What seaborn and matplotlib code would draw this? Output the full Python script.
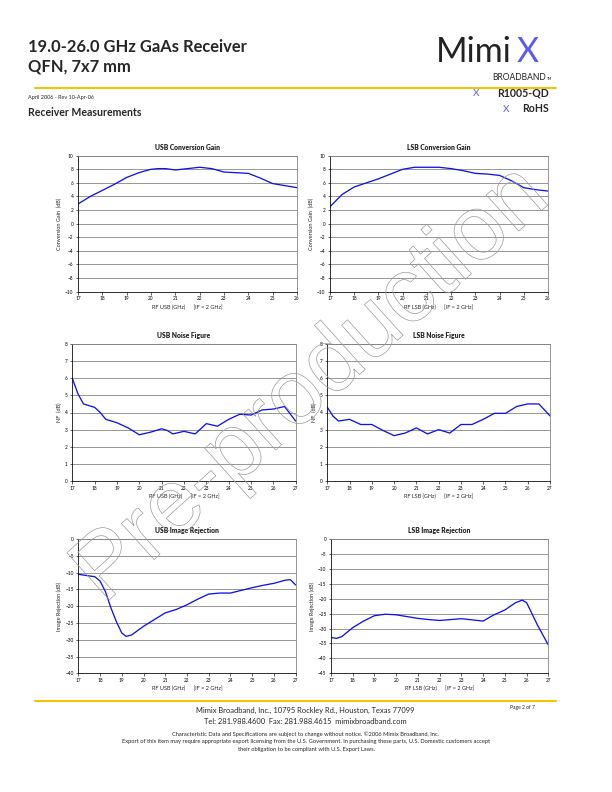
import matplotlib
matplotlib.use("Agg")
import matplotlib.pyplot as plt
import matplotlib.patheffects as pe
import seaborn as sns
import pandas as pd

# ---------------- data ----------------
usb_cg_x = [17, 17.5, 18, 18.5, 19, 19.5, 20, 20.3, 20.6, 21, 21.5, 22, 22.5, 23, 23.5, 24, 24.5, 25, 25.5, 26]
usb_cg_y = [2.9, 4.0, 4.9, 5.8, 6.8, 7.5, 8.0, 8.1, 8.1, 7.9, 8.1, 8.3, 8.1, 7.6, 7.5, 7.4, 6.7, 5.9, 5.6, 5.3]

lsb_cg_x = [17, 17.5, 18, 18.5, 19, 19.5, 20, 20.5, 21, 21.5, 22, 22.5, 23, 23.5, 24, 24.5, 25, 25.5, 26]
lsb_cg_y = [2.5, 4.3, 5.4, 6.0, 6.6, 7.3, 8.0, 8.3, 8.3, 8.3, 8.1, 7.8, 7.4, 7.3, 7.1, 6.3, 5.3, 5.0, 4.8]

usb_nf_x = [17, 17.25, 17.5, 17.75, 18, 18.25, 18.5, 19, 19.5, 20, 20.5, 21, 21.25, 21.5, 22, 22.5, 23, 23.5, 24, 24.5, 25, 25.5, 26, 26.5, 27]
usb_nf_y = [6.0, 5.1, 4.5, 4.4, 4.3, 4.0, 3.6, 3.4, 3.1, 2.7, 2.85, 3.05, 2.95, 2.75, 2.9, 2.75, 3.35, 3.2, 3.6, 3.9, 3.85, 4.15, 4.2, 4.35, 3.5]

lsb_nf_x = [17, 17.25, 17.5, 18, 18.5, 19, 19.5, 20, 20.5, 21, 21.5, 22, 22.5, 23, 23.5, 24, 24.5, 25, 25.5, 26, 26.5, 27]
lsb_nf_y = [4.3, 3.8, 3.5, 3.6, 3.3, 3.3, 2.95, 2.65, 2.8, 3.1, 2.75, 3.0, 2.8, 3.3, 3.3, 3.6, 3.95, 3.95, 4.35, 4.5, 4.5, 3.8]

usb_ir_x = [17, 17.5, 17.75, 18, 18.25, 18.5, 18.75, 19, 19.2, 19.45, 20, 20.5, 21, 21.5, 22, 22.5, 23, 23.5, 24, 24.5, 25, 25.5, 26, 26.5, 26.75, 27]
usb_ir_y = [-10.5, -11.0, -11.2, -12.5, -15.7, -20.5, -24.6, -28.0, -29.0, -28.6, -26.0, -24.0, -22.0, -21.0, -19.6, -17.9, -16.4, -16.1, -16.1, -15.3, -14.5, -13.8, -13.2, -12.3, -12.1, -13.7]

lsb_ir_x = [17, 17.25, 17.5, 18, 18.5, 19, 19.5, 20, 20.5, 21, 21.5, 22, 22.5, 23, 23.5, 24, 24.5, 25, 25.5, 25.8, 26, 26.5, 27]
lsb_ir_y = [-33.0, -33.3, -32.7, -29.7, -27.5, -25.7, -25.2, -25.4, -26.0, -26.6, -27.0, -27.3, -27.0, -26.7, -27.1, -27.5, -25.4, -23.8, -21.3, -20.5, -21.3, -28.8, -35.5]

titles = ["USB Conversion Gain", "LSB Conversion Gain", "USB Noise Figure",
          "LSB Noise Figure", "USB Image Rejection", "LSB Image Rejection"]
ylabels = ["Conversion Gain  (dB)", "Conversion Gain  (dB)", "NF  (dB)", "NF  (dB)",
           "Image Rejection (dB)", "Image Rejection (dB)"]
xlabels = ["RF USB (GHz)      [IF = 2 GHz]", "RF LSB (GHz)      [IF = 2 GHz]"] * 3

# ---------------- style ----------------
sns.set_theme(style="white")
plt.rcParams["font.family"] = ["Lato", "DejaVu Sans"]

W, H = 612, 792
fig = plt.figure(figsize=(W / 72, H / 72), dpi=72)

def axbox(l, t, r, b):
    return [l / W, 1 - b / H, (r - l) / W, (b - t) / H]

boxes = [
    axbox(78, 155.7, 297, 291.7),
    axbox(330, 155.7, 548, 291.7),
    axbox(72.3, 344, 295.7, 481),
    axbox(327.3, 344, 550, 481),
    axbox(78.3, 539, 295.7, 673.3),
    axbox(331, 539, 548.3, 673.3),
]
series = [(usb_cg_x, usb_cg_y), (lsb_cg_x, lsb_cg_y), (usb_nf_x, usb_nf_y),
          (lsb_nf_x, lsb_nf_y), (usb_ir_x, usb_ir_y), (lsb_ir_x, lsb_ir_y)]
xlims = [(17, 26), (17, 26), (17, 27), (17, 27), (17, 27), (17, 27)]
ylims = [(-10, 10), (-10, 10), (0, 8), (0, 8), (-40, 0), (-45, 0)]
ysteps = [2, 2, 1, 1, 5, 5]

for i, (box, (xs, ys)) in enumerate(zip(boxes, series)):
    ax = fig.add_axes(box)
    df = pd.DataFrame({"x": xs, "y": ys})
    sns.lineplot(data=df, x="x", y="y", ax=ax, color="#1010ee", linewidth=1.3)
    x0, x1 = xlims[i]
    y0, y1 = ylims[i]
    ax.set_xlim(x0, x1)
    ax.set_ylim(y0, y1)
    ax.set_xticks(range(x0, x1 + 1))
    yt = list(range(y0, y1 + 1, ysteps[i]))
    ax.set_yticks(yt)
    ax.yaxis.grid(True, color="#808080", linewidth=0.8)
    ax.xaxis.grid(False)
    ax.set_axisbelow(True)
    for s in ["top", "right"]:
        ax.spines[s].set_color("#808080")
        ax.spines[s].set_linewidth(0.8)
    for s in ["left", "bottom"]:
        ax.spines[s].set_color("black")
        ax.spines[s].set_linewidth(0.8)
    ax.tick_params(axis="both", which="major", labelsize=4.8, length=2.5, width=0.6,
                   direction="out", colors="black", pad=2)
    ax.tick_params(left=True, bottom=True)
    ax.set_xlabel(xlabels[i], fontsize=5.5, labelpad=3)
    ax.set_ylabel(ylabels[i], fontsize=5.5, labelpad=3)
    ax.set_title(titles[i], fontsize=6.8, fontweight="heavy", pad=6)

# ---------------- page furniture ----------------
def ftext(x, y, s, **kw):
    fig.text(x / W, 1 - y / H, s, **kw)

ftext(28, 47, "19.0-26.0 GHz GaAs Receiver", fontsize=16.5, fontweight="bold", va="center")
ftext(28, 67, "QFN, 7x7 mm", fontsize=16.5, fontweight="bold", va="center")
ftext(28, 98, "April 2006 - Rev 10-Apr-06", fontsize=5.5, va="center")
ftext(28, 113, "Receiver Measurements", fontsize=10.5, fontweight="bold", va="center")

ftext(436, 52, "Mimi", fontsize=34, fontweight="normal", ha="left", va="center", color="#222222")
ftext(517, 52, "X", fontsize=34, fontweight="normal", ha="left", va="center", color="#5a5af0")
ftext(546, 77, "BROADBAND", fontsize=8.5, ha="right", va="center", color="#222222")
ftext(547, 79, "TM", fontsize=3.5, ha="left", va="center", color="#222222")
ftext(549, 93, "R1005-QD", fontsize=10.5, fontweight="bold", ha="right", va="center")
ftext(479, 93, "X", fontsize=10, ha="right", va="center", color="#5a5af0")
ftext(549, 109, "RoHS", fontsize=10.5, fontweight="bold", ha="right", va="center")
ftext(509, 109, "X", fontsize=10, ha="right", va="center", color="#5a5af0")

fig.add_artist(plt.Line2D([35 / W, 556 / W], [1 - 88 / H, 1 - 88 / H], color="#f5c400", linewidth=2))
fig.add_artist(plt.Line2D([35 / W, 556 / W], [1 - 701 / H, 1 - 701 / H], color="#f5c400", linewidth=2))

ftext(305, 710, "Mimix Broadband, Inc., 10795 Rockley Rd., Houston, Texas 77099", fontsize=7.5, ha="center", va="center")
ftext(305, 721, "Tel: 281.988.4600  Fax: 281.988.4615  mimixbroadband.com", fontsize=7.5, ha="center", va="center")
ftext(522, 708, "Page 2 of 7", fontsize=5, ha="center", va="center")
ftext(306, 734, "Characteristic Data and Specifications are subject to change without notice. \u00a92006 Mimix Broadband, Inc.", fontsize=5.8, ha="center", va="center")
ftext(306, 742, "Export of this item may require appropriate export licensing from the U.S. Government. In purchasing these parts, U.S. Domestic customers accept", fontsize=5.8, ha="center", va="center")
ftext(306, 750, "their obligation to be compliant with U.S. Export Laws.", fontsize=5.8, ha="center", va="center")

# watermark
fig.text(312 / W, 1 - 385 / H, "Pre-production", rotation=42, fontsize=92,
         ha="center", va="center", color="none", family="Liberation Sans",
         path_effects=[pe.Stroke(linewidth=0.7, foreground="#9a9a9a")], zorder=10)

fig.savefig("out.png", dpi=72)
